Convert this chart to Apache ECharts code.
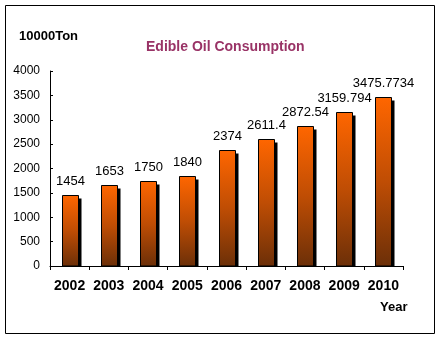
<!DOCTYPE html>
<html>
<head>
<meta charset="utf-8">
<script src="https://cdn.jsdelivr.net/npm/echarts@6/dist/echarts.min.js"></script>
<style>
html,body{margin:0;padding:0;background:#fff;}
#c{width:442px;height:340px;}
</style>
</head>
<body>
<div id="c"></div>
<script>
var categories = ['2002','2003','2004','2005','2006','2007','2008','2009','2010'];
var values = [1454, 1653, 1750, 1840, 2374, 2611.4, 2872.54, 3159.794, 3475.7734];
var valueLabels = ['1454','1653','1750','1840','2374','2611.4','2872.54','3159.794','3475.7734'];
var titleText = 'Edible Oil Consumption';
var unitText = '10000Ton';
var xName = 'Year';

var chart = echarts.init(document.getElementById('c'), null, {renderer:'canvas'});
var font = 'Arial, "Liberation Sans", sans-serif';
var grad = new echarts.graphic.LinearGradient(0,0,0,1,[
  {offset:0,color:'#FF6600'},
  {offset:0.5,color:'#BF4D04'},
  {offset:1,color:'#6B2F08'}
]);
function renderBar(params, api){
  var idx = api.value(0);
  var v = api.value(1);
  var top = api.coord([idx, v]);
  var base = api.coord([idx, 0]);
  var w = 16;
  var x = Math.round(top[0] - w/2) + 0.5;
  var y = Math.round(top[1]) + 0.5;
  var h = base[1] - y;
  return {
    type:'group',
    children:[
      {type:'rect', shape:{x:x+3, y:y+3, width:w, height:h-3}, style:{fill:'#000'}},
      {type:'rect', shape:{x:x, y:y, width:w, height:h},
       style:{fill:grad, stroke:'#000', lineWidth:1},
       textContent:{style:{text:valueLabels[params.dataIndex], fill:'#000', font:'13px '+font}},
       textConfig:{position:'top', distance:7}
      }
    ]
  };
}
chart.setOption({
  animation:false,
  backgroundColor:'#fff',
  title:{
    text:titleText,
    left:141, top:35,
    textStyle:{color:'#993366', fontSize:14, fontWeight:'bold', fontFamily:font}
  },
  graphic:[
    {type:'rect', shape:{x:5.5,y:5.5,width:429,height:328}, style:{fill:null, stroke:'#000', lineWidth:1}, silent:true},
    {type:'text', left:19, top:30, style:{text:unitText, font:'bold 13px '+font, fill:'#000'}},
    {type:'text', left:380, top:301, style:{text:xName, font:'bold 13px '+font, fill:'#000'}}
  ],
  grid:{left:50, right:39, top:71, bottom:74, containLabel:false},
  xAxis:{
    type:'category',
    data:categories,
    axisLine:{lineStyle:{color:'#000', width:1}},
    axisTick:{show:true, length:4, lineStyle:{color:'#000'}},
    axisLabel:{interval:0, color:'#000', fontSize:14, fontWeight:'bold', fontFamily:font, margin:13}
  },
  yAxis:{
    type:'value', min:0, max:4000, interval:500,
    axisLine:{show:true, lineStyle:{color:'#000', width:1}},
    axisTick:{show:true, inside:true, length:3, lineStyle:{color:'#000'}},
    splitLine:{show:false},
    axisLabel:{color:'#000', fontSize:12, fontFamily:font, margin:10, formatter:function(v){return String(v);}}
  },
  series:[{
    type:'custom',
    renderItem:renderBar,
    encode:{x:0, y:1},
    data:values.map(function(v,i){return [i, v];}),
    z:2
  }]
});
</script>
</body>
</html>
